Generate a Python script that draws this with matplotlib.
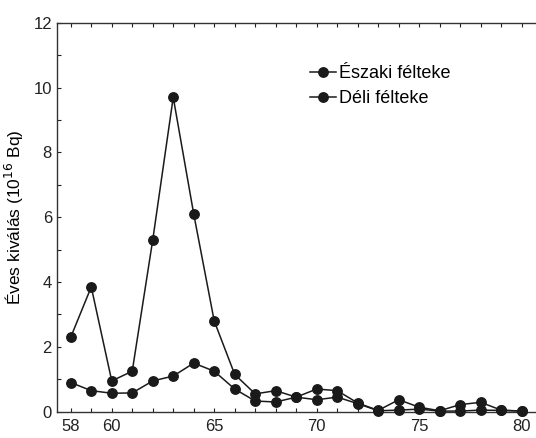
import matplotlib
matplotlib.use("Agg")
import matplotlib.pyplot as plt
import numpy as np

years = list(range(58, 81))
# annual deposition, 10^16 Bq
north = [2.3, 3.85, 0.95, 1.25, 5.3, 9.7, 6.1, 2.8, 1.15, 0.55,
         0.65, 0.45, 0.7, 0.65, 0.27, 0.04, 0.37, 0.14, 0.03, 0.22,
         0.29, 0.05, 0.02]
south = [0.9, 0.65, 0.57, 0.58, 0.95, 1.1, 1.5, 1.25, 0.7, 0.33,
         0.3, 0.45, 0.37, 0.45, 0.25, 0.03, 0.05, 0.08, 0.02, 0.02,
         0.05, 0.04, 0.02]
labels = ["Északi félteke", "Déli félteke"]
xtick_labels = {58: "58", 60: "60", 65: "65", 70: "70", 75: "75", 80: "80"}

plt.rcParams["font.family"] = ["Liberation Sans", "DejaVu Sans"]

fig = plt.figure(figsize=(5.36, 4.38), dpi=100)
ax = fig.add_axes([0.106, 0.06, 0.894, 0.888])

style = dict(color="#1a1a1a", marker="o", markersize=6.8, linewidth=1.1,
             clip_on=False, zorder=3)
ax.plot(years, north, label=labels[0], **style)
ax.plot(years, south, label=labels[1], **style)

ax.set_xlim(57.32, 80.7)
ax.set_ylim(0, 12)
ax.set_xticks(years)
ax.set_xticklabels([xtick_labels.get(y, "") for y in years])
ax.set_yticks(range(0, 13, 2))
ax.set_yticks(range(1, 12, 2), minor=True)
ax.tick_params(axis="both", which="both", direction="in", top=True,
               length=3, width=0.8, labelsize=12, colors="#222222")
ax.tick_params(axis="x", pad=5)
ax.spines["right"].set_visible(False)
for s in ("left", "bottom", "top"):
    ax.spines[s].set_linewidth(1.0)
    ax.spines[s].set_color("#333333")

ax.set_ylabel("Éves kiválás (10$^{16}$ Bq)", fontsize=12.5, labelpad=5)

ax.legend(loc="upper left", bbox_to_anchor=(0.51, 0.915), frameon=False,
          fontsize=13, handlelength=1.4, handletextpad=0.2, labelspacing=0.45,
          borderpad=0)

fig.savefig("out.png", dpi=100)
